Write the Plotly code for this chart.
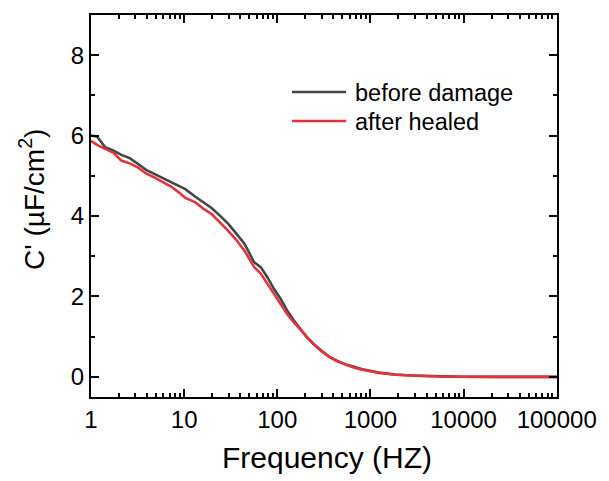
import plotly.graph_objects as go

# Frequency (Hz)
freq = [1, 1.16, 1.42, 1.73, 2.12, 2.6, 3.18, 3.9, 4.77, 5.85, 7.16, 8.77, 10.3, 13.2,
        16.1, 19.7, 24.2, 29.6, 36.2, 44.4, 56.5, 66.4, 78.2, 92, 108, 127, 150, 175,
        207, 243, 298, 364, 447, 547, 670, 820, 1230, 1840, 2770, 4140, 6210, 10000,
        20000, 50000, 100000]

before_damage = [6.00, 5.98, 5.71, 5.63, 5.52, 5.44, 5.30, 5.15, 5.05, 4.95, 4.84, 4.74, 4.67,
                 4.48, 4.34, 4.20, 4.01, 3.81, 3.57, 3.31, 2.85, 2.73, 2.48, 2.19, 1.95, 1.66,
                 1.41, 1.20, 0.99, 0.83, 0.65, 0.50, 0.39, 0.31, 0.24, 0.19, 0.11, 0.06, 0.035,
                 0.02, 0.01, 0.005, 0.0, 0.0, 0.0]

after_healed = [5.87, 5.77, 5.67, 5.58, 5.38, 5.31, 5.21, 5.06, 4.96, 4.84, 4.74, 4.59, 4.45,
                4.34, 4.18, 4.05, 3.85, 3.64, 3.41, 3.14, 2.73, 2.57, 2.32, 2.07, 1.82, 1.57,
                1.36, 1.18, 0.98, 0.82, 0.64, 0.49, 0.38, 0.30, 0.23, 0.18, 0.10, 0.055, 0.03,
                0.015, 0.005, 0.0, 0.0, 0.0, 0.0]

x_tickvals = [1, 10, 100, 1000, 10000, 100000]
x_ticktext = ["1", "10", "100", "1000", "10000", "100000"]
x_minor = [m * 10 ** d for d in range(5) for m in range(2, 10)]
y_tickvals = [0, 2, 4, 6, 8]
y_minor = [1, 3, 5, 7]

series_names = ["before damage", "after healed"]
series_colors = ["#454545", "#e5333b"]

FONT = "Liberation Sans, Arial, sans-serif"

fig = go.Figure()
for name, vals, col in zip(series_names, [before_damage, after_healed], series_colors):
    fig.add_trace(go.Scatter(x=freq, y=vals, mode="lines", name=name,
                             line=dict(color=col, width=2.6), showlegend=False))

axis_common = dict(showline=True, linecolor="black", linewidth=2, mirror="allticks",
                   ticks="inside", ticklen=8, tickwidth=2, tickcolor="black",
                   showgrid=False, zeroline=False,
                   tickfont=dict(family=FONT, size=24, color="black"))

fig.update_xaxes(type="log", range=[0, 5.003], tickvals=x_tickvals, ticktext=x_ticktext,
                 minor=dict(tickvals=x_minor, ticks="inside", ticklen=4, tickwidth=1.5,
                            tickcolor="black", showgrid=False),
                 **axis_common)
fig.update_yaxes(range=[-0.5, 9], tickvals=y_tickvals,
                 minor=dict(tickvals=y_minor, ticks="inside", ticklen=4, tickwidth=1.5,
                            tickcolor="black", showgrid=False),
                 **axis_common)

W, H = 609, 481
L, R, T, B = 91, 45, 15, 84
pw, ph = W - L - R, H - T - B

def px(xp):
    return (xp - L) / pw

def py(yp):
    return (H - B - yp) / ph

annotations = [
    dict(text="Frequency (HZ)", xref="paper", yref="paper", x=px(331), y=py(457),
         xanchor="center", yanchor="middle", showarrow=False,
         font=dict(family=FONT, size=30, color="black")),
    dict(text="C' (µF/cm<sup>2</sup>)", xref="paper", yref="paper", x=px(31), y=py(199),
         xanchor="center", yanchor="middle", showarrow=False, textangle=-90,
         font=dict(family=FONT, size=28, color="black")),
]
shapes = []
legend_rows = [92, 121]
for name, col, yrow in zip(series_names, series_colors, legend_rows):
    shapes.append(dict(type="line", xref="paper", yref="paper", x0=px(295), x1=px(350),
                       y0=py(yrow), y1=py(yrow), line=dict(color=col, width=2.6)))
    annotations.append(dict(text=name, xref="paper", yref="paper", x=px(357), y=py(yrow + 1),
                            xanchor="left", yanchor="middle", showarrow=False,
                            font=dict(family=FONT, size=23.5, color="black")))

fig.update_layout(width=W, height=H, margin=dict(l=L, r=R, t=T, b=B),
                  paper_bgcolor="white", plot_bgcolor="white",
                  annotations=annotations, shapes=shapes)

fig.write_html("out.html", config={"displayModeBar": False},
               post_script="document.body.style.margin='0';document.body.style.padding='0';")
